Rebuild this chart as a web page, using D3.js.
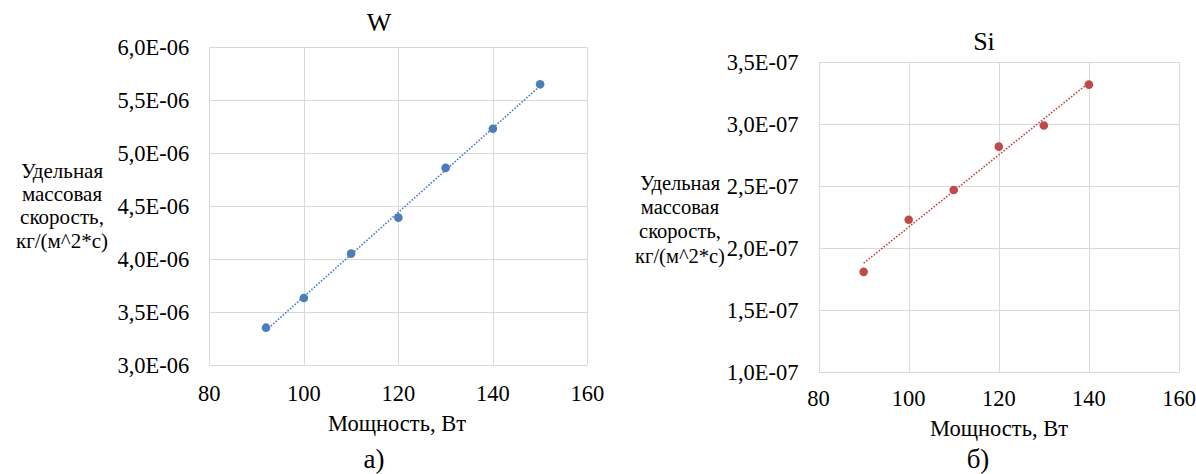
<!DOCTYPE html>
<html><head><meta charset="utf-8">
<script src="https://cdn.jsdelivr.net/npm/d3@7"></script>
<style>
html,body{margin:0;padding:0;background:#fff;}
</style></head>
<body><svg id="c" width="1196" height="474" font-family="Liberation Serif"></svg>
<script>
// ---- data ----
const wTitle = "W";
const wPower = [92, 100, 110, 120, 130, 140, 150];
const wRate = [3.35e-6, 3.63e-6, 4.05e-6, 4.39e-6, 4.86e-6, 5.23e-6, 5.65e-6];
const wYTicks = [3.0e-6, 3.5e-6, 4.0e-6, 4.5e-6, 5.0e-6, 5.5e-6, 6.0e-6];

const siTitle = "Si";
const siPower = [90, 100, 110, 120, 130, 140];
const siRate = [1.81e-7, 2.23e-7, 2.47e-7, 2.82e-7, 2.99e-7, 3.32e-7];
const siYTicks = [1.0e-7, 1.5e-7, 2.0e-7, 2.5e-7, 3.0e-7, 3.5e-7];

const xTicks = [80, 100, 120, 140, 160];
const xLabel = "Мощность, Вт";
const yLabelLines = ["Удельная", "массовая", "скорость,", "кг/(м^2*с)"];
const captions = ["а)", "б)"];

const FONT = "Liberation Serif";
const svg = d3.select("#c");

function fmtE(v, exp) {
  const m = v / Math.pow(10, exp);
  return m.toFixed(1).replace(".", ",") + "E-" + String(-exp).padStart(2, "0");
}

function txt(sel) { return sel.attr("font-family", FONT).attr("fill", "#000"); }

function drawChart(cfg) {
  const x = d3.scaleLinear().domain([80, 160]).range([cfg.left, cfg.right]);
  const y = d3.scaleLinear().domain([cfg.yTicks[0], cfg.yTicks[cfg.yTicks.length - 1]]).range([cfg.bottom, cfg.top]);
  const g = svg.append("g");

  // gridlines
  g.append("g").selectAll("line").data(cfg.yTicks).join("line")
    .attr("x1", cfg.left).attr("x2", cfg.right)
    .attr("y1", d => Math.round(y(d)) + 0.5).attr("y2", d => Math.round(y(d)) + 0.5)
    .attr("stroke", "#d9d9d9").attr("stroke-width", 1);
  g.append("g").selectAll("line").data(xTicks).join("line")
    .attr("y1", cfg.top).attr("y2", cfg.bottom)
    .attr("x1", d => Math.round(x(d)) + 0.5).attr("x2", d => Math.round(x(d)) + 0.5)
    .attr("stroke", "#d9d9d9").attr("stroke-width", 1);

  // y tick labels
  txt(g.append("g").selectAll("text").data(cfg.yTicks).join("text"))
    .attr("x", cfg.left - 20).attr("y", d => y(d)).attr("dy", "0.35em")
    .attr("text-anchor", "end").attr("font-size", 22.5)
    .text(d => fmtE(d, cfg.exp));
  // x tick labels
  txt(g.append("g").selectAll("text").data(xTicks).join("text"))
    .attr("x", d => x(d)).attr("y", cfg.xTickY).attr("dy", "0.35em")
    .attr("text-anchor", "middle").attr("font-size", 22.5)
    .text(d => d);

  // trendline (least squares)
  const n = cfg.xs.length;
  const mx = d3.mean(cfg.xs), my = d3.mean(cfg.ys);
  let sxy = 0, sxx = 0;
  for (let i = 0; i < n; i++) { sxy += (cfg.xs[i] - mx) * (cfg.ys[i] - my); sxx += (cfg.xs[i] - mx) ** 2; }
  const b = sxy / sxx, a = my - b * mx;
  const x0 = d3.min(cfg.xs), x1 = d3.max(cfg.xs);
  g.append("line")
    .attr("x1", x(x0)).attr("y1", y(a + b * x0))
    .attr("x2", x(x1)).attr("y2", y(a + b * x1))
    .attr("stroke", cfg.color).attr("stroke-width", 1.6)
    .attr("stroke-dasharray", "1.6,1.6");

  // points
  g.append("g").selectAll("circle").data(cfg.xs.map((v, i) => [v, cfg.ys[i]])).join("circle")
    .attr("cx", d => x(d[0])).attr("cy", d => y(d[1])).attr("r", 4.3)
    .attr("fill", cfg.color);

  // title
  txt(g.append("text")).attr("x", cfg.titleX).attr("y", cfg.titleY).attr("dy", "0.35em")
    .attr("text-anchor", "middle").attr("font-size", 26).text(cfg.title);

  // y label
  txt(g.append("g").selectAll("text").data(yLabelLines).join("text"))
    .attr("x", cfg.yLabX).attr("y", (d, i) => cfg.yLabY + i * cfg.yLabStep).attr("dy", "0.35em")
    .attr("text-anchor", "middle").attr("font-size", cfg.yLabSize).text(d => d);

  // x label
  txt(g.append("text")).attr("x", cfg.xLabX).attr("y", cfg.xLabY).attr("dy", "0.35em")
    .attr("text-anchor", "middle").attr("font-size", 22.5).text(xLabel);

  // caption
  txt(g.append("text")).attr("x", cfg.capX).attr("y", 459).attr("dy", "0.35em")
    .attr("text-anchor", "middle").attr("font-size", 27).text(cfg.caption);
}

drawChart({
  xs: wPower, ys: wRate, yTicks: wYTicks, exp: -6, color: "#4a7ebb", title: wTitle,
  left: 209.3, right: 587.4, top: 47.3, bottom: 364.7, xTickY: 392.7,
  titleX: 379, titleY: 22, yLabX: 62, yLabY: 170.7, yLabStep: 23.2, yLabSize: 21,
  xLabX: 397, xLabY: 422.7, capX: 374, caption: captions[0]
});
drawChart({
  xs: siPower, ys: siRate, yTicks: siYTicks, exp: -7, color: "#be4b48", title: siTitle,
  left: 818.6, right: 1179, top: 62.3, bottom: 372.3, xTickY: 398,
  titleX: 984, titleY: 41, yLabX: 680, yLabY: 182.7, yLabStep: 24.3, yLabSize: 20.5,
  xLabX: 999, xLabY: 428.3, capX: 978, caption: captions[1]
});
</script></body></html>
